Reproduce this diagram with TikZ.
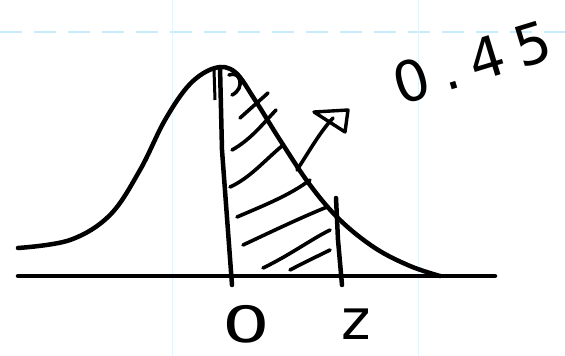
\documentclass[tikz,border=0pt]{standalone}
\usepackage{fontspec}
\setmainfont{DejaVu Sans}
\usetikzlibrary{arrows.meta}
\begin{document}
\begin{tikzpicture}[x=1pt,y=-1pt,
  ink/.style={line width=4.5pt,line cap=round,line join=round,black},
  hatch/.style={line width=3.6pt,line cap=round,black},
  grid/.style={line width=1.4pt,cyan!22},
  lbl/.style={inner sep=0pt}]
\useasboundingbox (0,0) rectangle (565,356);
% faint ruled paper
\draw[grid,dash pattern=on 22pt off 12pt] (0,32) -- (565,32);
\draw[line width=1pt,cyan!12] (172,0) -- (172,356);
\draw[line width=1pt,cyan!12] (418,0) -- (418,356);
% axis
\draw[ink] (18,276) -- (495,276);
% bell curve
\draw[ink] plot[smooth,tension=0.6] coordinates {(18,248) (70,240) (110,215) (140,170) (165,120) (190,84) (215,68) (235,72) (255,100) (280,140) (310,185) (340,220) (375,248) (410,266) (440,276)};
% verticals at 0 and z
\draw[ink] (220,67) -- (222,150) -- (232,285);
\draw[line width=3pt] (214,70) -- (215,100);
\draw[ink] (336,198) -- (338,240) -- (342,285);
% small mark near peak
\draw[hatch] (229,75) .. controls (240,70) and (246,88) .. (232,95);
% hatching
\draw[hatch] (240,118) -- (268,93);
\draw[hatch] (232,150) .. controls (250,140) and (262,125) .. (276,110);
\draw[hatch] (230,187) .. controls (250,178) and (265,160) .. (282,146);
\draw[hatch] (237,217) .. controls (265,205) and (290,195) .. (310,180);
\draw[hatch] (243,245) .. controls (275,230) and (300,218) .. (327,207);
\draw[hatch] (263,268) .. controls (290,255) and (310,240) .. (330,230);
\draw[hatch] (290,270) .. controls (305,262) and (320,255) .. (330,250);
% arrow to the label
\coordinate (a0) at (297,170);
\coordinate (a1) at (333,118);
\draw[hatch] (a0) .. controls (310,150) and (320,132) .. (a1);
\draw[line width=3.4pt,line join=round] (314,112) -- (348,110) -- (345,132) -- cycle;
% labels
\node[lbl,rotate=17,font=\fontsize{56}{56}\selectfont\addfontfeature{LetterSpace=22}] (p) at (472,62) {0.45};
\node[lbl,xscale=1.5,font=\fontsize{50}{50}\selectfont] (zero) at (246,324) {0};
\node[lbl,font=\fontsize{56}{56}\selectfont] (zz) at (356,324) {z};
\end{tikzpicture}
\end{document}
